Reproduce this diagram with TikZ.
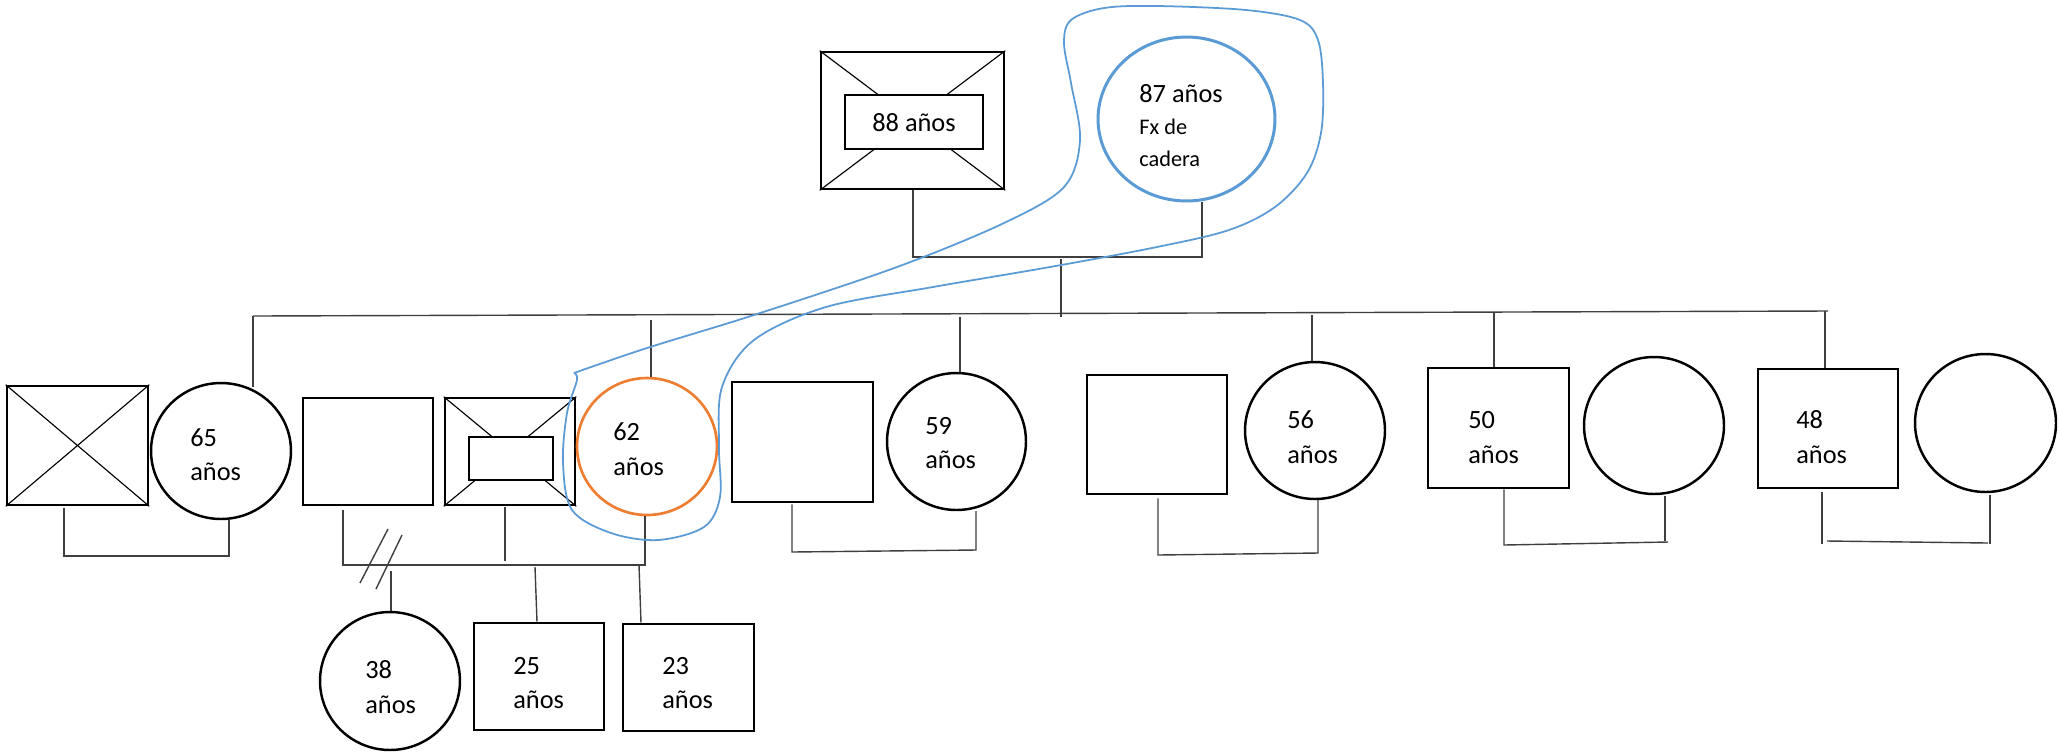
\documentclass[tikz,border=0pt]{standalone}
\usepackage{fontspec}
\setmainfont{Carlito}
\usetikzlibrary{shapes.geometric}
\definecolor{hblue}{HTML}{5B9BD5}
\definecolor{horange}{HTML}{ED7D31}
\definecolor{lgray}{HTML}{3F3F3F}
\begin{document}
\begin{tikzpicture}[x=0.02cm,y=-0.02cm,
  sq/.style={draw=black, line width=1.5pt, rectangle, inner sep=0pt, fill=white},
  innerbox/.style={draw=black, line width=0.8pt, rectangle, inner sep=0pt, fill=white},
  fem/.style={draw=black, line width=1.4pt, ellipse, inner sep=0pt},
  conn/.style={draw=lgray, line width=0.8pt},
  diag/.style={draw=black, line width=0.65pt},
  loopline/.style={draw=hblue, line width=1pt},
  lbl/.style={font=\fontsize{15}{20}\selectfont, inner sep=0pt, anchor=base west},
  lblsmall/.style={font=\fontsize{12.7}{18}\selectfont, inner sep=0pt, anchor=base west},
]
\useasboundingbox[fill=white] (0,0) rectangle (2059,752);

% ---------- generation I ----------
\node[sq, minimum width=3.66cm, minimum height=2.74cm] (gf) at (912.5,120.5) {};
\draw[diag] (gf.north west) -- (gf.south east) (gf.north east) -- (gf.south west);
\node[sq, minimum width=2.76cm, minimum height=1.08cm] (gfin) at (914,122) {};
\node[lbl, anchor=base] (t88) at (914,131) {88 años};

\node[fem, draw=hblue, line width=1.7pt, minimum width=3.54cm, minimum height=3.28cm] (gm) at (1186.5,119) {};
\node[lbl] (t87) at (1139,102) {87 años};
\node[lblsmall] (tfx) at (1139,134) {Fx de};
\node[lblsmall] (tcad) at (1139,166) {cadera};

% ---------- generation II ----------
\node[sq, minimum width=2.82cm, minimum height=2.38cm] (a1) at (77.5,445.5) {};
\draw[diag] (a1.north west) -- (a1.south east) (a1.north east) -- (a1.south west);
\node[fem, minimum width=2.80cm, minimum height=2.72cm] (a2) at (221,451) {};
\node[lbl] (l65a) at (190,446) {65};
\node[lbl] (l65b) at (190,480) {años};

\node[sq, minimum width=2.60cm, minimum height=2.14cm] (b1) at (368,451.5) {};
\node[sq, minimum width=2.60cm, minimum height=2.14cm] (b2) at (510,451.5) {};
\draw[diag] (b2.north west) -- (b2.south east) (b2.north east) -- (b2.south west);
\node[innerbox, minimum width=1.68cm, minimum height=0.86cm] (b2in) at (511,458.5) {};
\node[fem, draw=horange, line width=1.5pt, minimum width=2.80cm, minimum height=2.74cm] (b3) at (647,446.5) {};
\node[lbl] (l62a) at (613,440) {62};
\node[lbl] (l62b) at (613,475) {años};

\node[sq, minimum width=2.82cm, minimum height=2.40cm] (c1) at (802.5,442) {};
\node[fem, minimum width=2.78cm, minimum height=2.74cm] (c2) at (956.5,441.5) {};
\node[lbl] (l59a) at (925,434) {59};
\node[lbl] (l59b) at (925,468) {años};

\node[sq, minimum width=2.80cm, minimum height=2.38cm] (d1) at (1157,434.5) {};
\node[fem, minimum width=2.80cm, minimum height=2.74cm] (d2) at (1315,430.5) {};
\node[lbl] (l56a) at (1287,428) {56};
\node[lbl] (l56b) at (1287,463) {años};

\node[sq, minimum width=2.82cm, minimum height=2.40cm] (e1) at (1498.5,428) {};
\node[fem, minimum width=2.80cm, minimum height=2.74cm] (e2) at (1654,425.5) {};
\node[lbl] (l50a) at (1468,428) {50};
\node[lbl] (l50b) at (1468,463) {años};

\node[sq, minimum width=2.80cm, minimum height=2.38cm] (f1) at (1828,428.5) {};
\node[fem, minimum width=2.82cm, minimum height=2.76cm] (f2) at (1985.5,423) {};
\node[lbl] (l48a) at (1796,428) {48};
\node[lbl] (l48b) at (1796,463) {años};

% ---------- generation III ----------
\node[fem, minimum width=2.80cm, minimum height=2.76cm] (g1) at (390,681) {};
\node[lbl] (l38a) at (365,678) {38};
\node[lbl] (l38b) at (365,713) {años};
\node[sq, minimum width=2.60cm, minimum height=2.14cm] (g2) at (539,676.5) {};
\node[lbl] (l25a) at (513,674) {25};
\node[lbl] (l25b) at (513,708) {años};
\node[sq, minimum width=2.62cm, minimum height=2.14cm] (g3) at (688.5,677.5) {};
\node[lbl] (l23a) at (662,674) {23};
\node[lbl] (l23b) at (662,708) {años};

% ---------- connectors ----------
% grandparents
\coordinate (t1) at (913,257);
\coordinate (t2) at (1202,257);
\coordinate (t3) at (1061,259);
\coordinate (t4) at (1061,317);
\draw[conn] (t1 |- gf.south) -- (t1) -- (t2) -- (t2 |- gm.south);
\draw[conn] (t3) -- (t4);
% sibship line
\coordinate (s1) at (253,316);
\coordinate (s2) at (1828,311);
\draw[conn] (s1) -- (s2);
\coordinate (k1) at (253,387);
\draw[conn] (s1) -- (k1);
\coordinate (k2) at (651,320);
\draw[conn] (k2) -- (k2 |- b3.north);
\coordinate (k3) at (960,317);
\draw[conn] (k3) -- (k3 |- c2.north);
\coordinate (k4) at (1312,315);
\draw[conn] (k4) -- (k4 |- d2.north);
\coordinate (k5) at (1494,313);
\draw[conn] (k5) -- (k5 |- e1.north);
\coordinate (k6) at (1825,311);
\draw[conn] (k6) -- (k6 |- f1.north);

% couple a
\coordinate (ua1) at (64,556);
\coordinate (ua2) at (229,556);
\draw[conn] ([yshift=-0.04cm]ua1 |- a1.south) -- (ua1) -- (ua2) -- (ua2 |- a2.south);
% couple b (first husband, second husband, 62)
\coordinate (ub1) at (343,565);
\coordinate (ub3) at (645,565);
\coordinate (ub2) at (505,561);
\draw[conn] ([yshift=-0.08cm]ub1 |- b1.south) -- (ub1) -- (ub3) -- (ub3 |- b3.south);
\draw[conn] ([yshift=-0.02cm]ub2 |- b2.south) -- (ub2);
\coordinate (dv1a) at (388,529);
\coordinate (dv1b) at (360,583);
\coordinate (dv2a) at (402,535);
\coordinate (dv2b) at (376,589);
\draw[conn] (dv1a) -- (dv1b) (dv2a) -- (dv2b);
% children
\coordinate (cg1) at (391,571);
\draw[conn] (cg1) -- (cg1 |- g1.north);
\coordinate (cg2) at (535,567);
\draw[conn] (cg2) -- ([xshift=0.04cm]cg2 |- g2.north);
\coordinate (cg3) at (639,565);
\draw[conn] (cg3) -- ([xshift=0.04cm]cg3 |- g3.north);
% couple c
\coordinate (uc1) at (792,552);
\coordinate (uc2) at (976,550);
\draw[conn] ([yshift=-0.02cm]uc1 |- c1.south) -- (uc1) -- (uc2) -- (uc2 |- c2.south);
% couple d
\coordinate (ud1) at (1158,555);
\coordinate (ud2) at (1318,553);
\draw[conn] ([yshift=-0.06cm]ud1 |- d1.south) -- (ud1) -- (ud2) -- (ud2 |- d2.south);
% couple e
\coordinate (ue1) at (1504,545);
\coordinate (ue2) at (1668,542);
\coordinate (ue3) at (1665,541);
\draw[conn] (ue1 |- e1.south) -- (ue1) -- (ue2);
\draw[conn] (ue3) -- ([yshift=-0.02cm]ue3 |- e2.south);
% couple f
\coordinate (uf1) at (1822,544);
\coordinate (uf2) at (1827,541);
\coordinate (uf3) at (1988,543);
\coordinate (uf4) at (1990,544);
\draw[conn] ([yshift=-0.06cm]uf1 |- f1.south) -- (uf1);
\draw[conn] (uf2) -- (uf3);
\draw[conn] (uf4) -- ([yshift=-0.04cm]uf4 |- f2.south);

% ---------- blue enclosing loop ----------
\draw[loopline] plot[smooth, tension=0.55] coordinates {
 (574,373) (647,348) (754,315) (897,267) (1004,223) (1064,187) (1080,140)
 (1071,83) (1064,43) (1071,20) (1104,8) (1157,6) (1246,10) (1300,20)
 (1318,40) (1323,83) (1321,133) (1307,173) (1275,207) (1229,230) (1157,247)
 (1050,267) (933,287) (826,307) (754,340) (722,387) (719,447) (720,497)
 (704,527) (658,540) (611,533) (572,510) (563,463) (567,413) (577,380) (574,373)};
\end{tikzpicture}
\end{document}
